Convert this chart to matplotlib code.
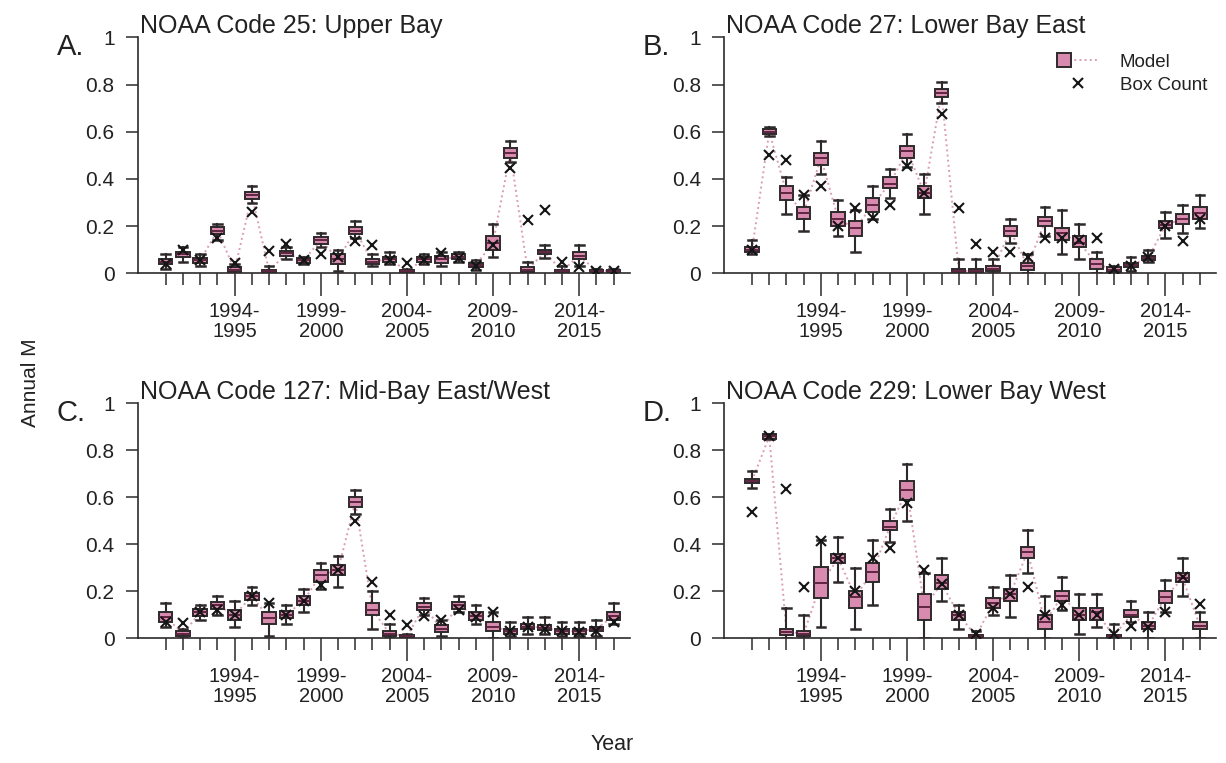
import numpy as np
import matplotlib
matplotlib.use('Agg')
import matplotlib.pyplot as plt
from matplotlib.lines import Line2D
from matplotlib.legend_handler import HandlerLine2D

plt.rcParams['font.family'] = ['Liberation Sans', 'DejaVu Sans']

# ----------------------------------------------------------------------
# data: years = first year of each season
# ----------------------------------------------------------------------
years = list(range(1990, 2017))
major_years = [1994, 1999, 2004, 2009, 2014]
major_labels = ['1994-\n1995', '1999-\n2000', '2004-\n2005', '2009-\n2010', '2014-\n2015']

titles = ['NOAA Code 25: Upper Bay', 'NOAA Code 27: Lower Bay East',
          'NOAA Code 127: Mid-Bay East/West', 'NOAA Code 229: Lower Bay West']
letters = ['A.', 'B.', 'C.', 'D.']

# Panel A -- NOAA 25
a_med = [0.05, 0.08, 0.055, 0.18, 0.015, 0.33, 0.01, 0.085, 0.055, 0.14, 0.06, 0.18, 0.05, 0.06,
         0.01, 0.06, 0.06, 0.07, 0.035, 0.13, 0.51, 0.015, 0.09, 0.01, 0.075, 0.01, 0.01]
a_q1 = [0.04, 0.07, 0.045, 0.165, 0.005, 0.315, 0.005, 0.075, 0.045, 0.125, 0.04, 0.165, 0.04, 0.05,
        0.005, 0.05, 0.045, 0.06, 0.025, 0.10, 0.49, 0.005, 0.08, 0.005, 0.06, 0.005, 0.005]
a_q3 = [0.06, 0.09, 0.065, 0.195, 0.025, 0.345, 0.015, 0.095, 0.065, 0.155, 0.08, 0.195, 0.06, 0.07,
        0.015, 0.07, 0.075, 0.08, 0.045, 0.16, 0.53, 0.025, 0.10, 0.015, 0.09, 0.015, 0.015]
a_lo = [0.02, 0.05, 0.03, 0.14, 0.0, 0.30, 0.0, 0.06, 0.04, 0.11, 0.01, 0.15, 0.03, 0.04,
        0.0, 0.04, 0.03, 0.05, 0.015, 0.07, 0.47, 0.0, 0.065, 0.0, 0.03, 0.0, 0.0]
a_hi = [0.08, 0.11, 0.08, 0.21, 0.04, 0.37, 0.03, 0.11, 0.07, 0.17, 0.10, 0.22, 0.08, 0.09,
        0.02, 0.08, 0.09, 0.09, 0.055, 0.21, 0.56, 0.05, 0.12, 0.03, 0.12, 0.02, 0.02]
a_cnt = [0.04, 0.10, 0.057, 0.15, 0.043, 0.26, 0.095, 0.123, 0.055, 0.082, 0.07, 0.135, 0.12, 0.055,
         0.045, 0.055, 0.085, 0.065, 0.03, 0.12, 0.447, 0.224, 0.267, 0.05, 0.025, 0.01, 0.01]

# Panel B -- NOAA 27
b_med = [0.10, 0.60, 0.34, 0.255, 0.49, 0.23, 0.19, 0.29, 0.38, 0.52, 0.34, 0.765, 0.01, 0.01,
         0.02, 0.18, 0.03, 0.22, 0.17, 0.13, 0.04, 0.015, 0.035, 0.065, 0.205, 0.23, 0.255]
b_q1 = [0.09, 0.59, 0.31, 0.23, 0.46, 0.20, 0.16, 0.26, 0.36, 0.49, 0.32, 0.745, 0.005, 0.005,
        0.01, 0.16, 0.015, 0.20, 0.14, 0.11, 0.02, 0.005, 0.025, 0.055, 0.19, 0.21, 0.23]
b_q3 = [0.11, 0.61, 0.37, 0.28, 0.51, 0.26, 0.22, 0.32, 0.41, 0.54, 0.37, 0.78, 0.02, 0.02,
        0.03, 0.20, 0.045, 0.24, 0.19, 0.16, 0.06, 0.025, 0.045, 0.075, 0.22, 0.25, 0.28]
b_lo = [0.08, 0.58, 0.25, 0.18, 0.42, 0.16, 0.09, 0.23, 0.32, 0.45, 0.25, 0.72, 0.0, 0.0,
        0.0, 0.13, 0.0, 0.16, 0.08, 0.06, 0.0, 0.0, 0.01, 0.05, 0.15, 0.17, 0.19]
b_hi = [0.14, 0.62, 0.41, 0.33, 0.56, 0.31, 0.27, 0.37, 0.44, 0.59, 0.42, 0.81, 0.06, 0.06,
        0.06, 0.23, 0.08, 0.28, 0.27, 0.21, 0.09, 0.03, 0.07, 0.10, 0.26, 0.29, 0.33]
b_cnt = [0.10, 0.50, 0.48, 0.33, 0.37, 0.20, 0.277, 0.234, 0.288, 0.454, 0.34, 0.674, 0.277, 0.123,
         0.089, 0.089, 0.07, 0.149, 0.15, 0.14, 0.149, 0.02, 0.03, 0.07, 0.20, 0.135, 0.23]

# Panel C -- NOAA 127
c_med = [0.09, 0.02, 0.11, 0.14, 0.10, 0.18, 0.085, 0.10, 0.16, 0.27, 0.29, 0.58, 0.12, 0.02,
         0.01, 0.135, 0.04, 0.14, 0.095, 0.05, 0.03, 0.05, 0.045, 0.03, 0.03, 0.04, 0.095]
c_q1 = [0.07, 0.01, 0.095, 0.125, 0.08, 0.165, 0.06, 0.085, 0.14, 0.24, 0.27, 0.56, 0.10, 0.01,
        0.005, 0.12, 0.025, 0.125, 0.08, 0.03, 0.02, 0.04, 0.035, 0.02, 0.02, 0.03, 0.08]
c_q3 = [0.11, 0.03, 0.125, 0.155, 0.12, 0.195, 0.11, 0.115, 0.18, 0.29, 0.31, 0.60, 0.15, 0.03,
        0.015, 0.15, 0.055, 0.155, 0.11, 0.07, 0.04, 0.06, 0.055, 0.04, 0.04, 0.05, 0.11]
c_lo = [0.05, 0.0, 0.08, 0.10, 0.05, 0.14, 0.01, 0.06, 0.11, 0.21, 0.22, 0.53, 0.04, 0.0,
        0.0, 0.10, 0.01, 0.11, 0.06, 0.0, 0.01, 0.02, 0.02, 0.01, 0.01, 0.01, 0.06]
c_hi = [0.15, 0.04, 0.14, 0.18, 0.16, 0.22, 0.15, 0.14, 0.21, 0.32, 0.35, 0.63, 0.20, 0.06,
        0.02, 0.17, 0.08, 0.18, 0.14, 0.11, 0.07, 0.09, 0.09, 0.07, 0.07, 0.08, 0.15]
c_cnt = [0.068, 0.064, 0.11, 0.12, 0.10, 0.18, 0.149, 0.10, 0.16, 0.227, 0.29, 0.50, 0.241, 0.10,
         0.057, 0.095, 0.08, 0.12, 0.09, 0.11, 0.03, 0.05, 0.04, 0.03, 0.025, 0.03, 0.07]

# Panel D -- NOAA 229
d_med = [0.67, 0.86, 0.028, 0.02, 0.234, 0.34, 0.177, 0.284, 0.475, 0.63, 0.132, 0.234, 0.10, 0.01,
         0.149, 0.19, 0.369, 0.068, 0.18, 0.10, 0.11, 0.01, 0.10, 0.052, 0.177, 0.255, 0.052]
d_q1 = [0.66, 0.85, 0.015, 0.01, 0.17, 0.32, 0.13, 0.24, 0.46, 0.59, 0.08, 0.21, 0.08, 0.005,
        0.13, 0.16, 0.34, 0.04, 0.16, 0.08, 0.08, 0.005, 0.09, 0.04, 0.15, 0.24, 0.04]
d_q3 = [0.68, 0.87, 0.04, 0.03, 0.305, 0.36, 0.20, 0.32, 0.50, 0.67, 0.19, 0.27, 0.11, 0.015,
        0.17, 0.21, 0.39, 0.10, 0.20, 0.13, 0.13, 0.015, 0.12, 0.07, 0.20, 0.28, 0.07]
d_lo = [0.64, 0.85, 0.0, 0.0, 0.05, 0.24, 0.04, 0.14, 0.41, 0.50, 0.0, 0.16, 0.04, 0.0,
        0.10, 0.09, 0.28, 0.0, 0.12, 0.02, 0.05, 0.0, 0.07, 0.0, 0.11, 0.18, 0.0]
d_hi = [0.71, 0.87, 0.13, 0.10, 0.42, 0.43, 0.30, 0.42, 0.55, 0.74, 0.28, 0.34, 0.14, 0.03,
        0.22, 0.27, 0.46, 0.18, 0.26, 0.19, 0.19, 0.06, 0.16, 0.11, 0.25, 0.34, 0.11]
d_cnt = [0.539, 0.86, 0.634, 0.22, 0.416, 0.34, 0.20, 0.34, 0.386, 0.574, 0.29, 0.23, 0.10, 0.02,
         0.13, 0.19, 0.217, 0.10, 0.14, 0.10, 0.10, 0.02, 0.052, 0.05, 0.113, 0.26, 0.146]

panels = [
    (a_med, a_q1, a_q3, a_lo, a_hi, a_cnt),
    (b_med, b_q1, b_q3, b_lo, b_hi, b_cnt),
    (c_med, c_q1, c_q3, c_lo, c_hi, c_cnt),
    (d_med, d_q1, d_q3, d_lo, d_hi, d_cnt),
]

# ----------------------------------------------------------------------
# style
# ----------------------------------------------------------------------
PINK = '#d98aaf'
EDGE = '#2e2a2c'
MED = '#5e2540'
TXT = '#222222'
LINE = '#dc9cba'

positions = [
    [0.1123, 0.6418, 0.4016, 0.3093],
    [0.5905, 0.6418, 0.4016, 0.3093],
    [0.1123, 0.1634, 0.4016, 0.3080],
    [0.5905, 0.1634, 0.4016, 0.3080],
]


class LeftMarkerHandler(HandlerLine2D):
    # square at the left end of the handle, dotted line trailing off to the right
    def create_artists(self, legend, orig_handle, xdescent, ydescent, width, height,
                       fontsize, trans):
        y = (height - ydescent) / 2
        x0 = -xdescent + 0.15 * width
        line = Line2D([x0, -xdescent + width], [y, y])
        self.update_prop(line, orig_handle, legend)
        line.set_marker('None')
        mk = Line2D([x0], [y])
        self.update_prop(mk, orig_handle, legend)
        mk.set_linestyle('None')
        line.set_transform(trans)
        mk.set_transform(trans)
        return [line, mk]


fig = plt.figure(figsize=(12.26, 7.63), dpi=100)

for k, (med, q1, q3, lo, hi, cnt) in enumerate(panels):
    ax = fig.add_axes(positions[k])
    stats = [dict(med=m, q1=a, q3=b, whislo=l, whishi=h, fliers=[])
             for m, a, b, l, h in zip(med, q1, q3, lo, hi)]

    ax.plot(years, med, ls=':', color=LINE, lw=1.4, zorder=1)
    ax.bxp(stats, positions=years, widths=0.78, capwidths=0.5, patch_artist=True,
           showfliers=False, manage_ticks=False,
           boxprops=dict(facecolor=PINK, edgecolor=EDGE, linewidth=1.4),
           whiskerprops=dict(color=EDGE, linewidth=1.5),
           capprops=dict(color=EDGE, linewidth=1.8),
           medianprops=dict(color=MED, linewidth=1.4),
           zorder=2)
    ax.plot(years, cnt, ls='none', marker='x', ms=7.5, mew=1.5, color='#151515', zorder=3)

    ax.set_xlim(1988.37, 2016.95)
    ax.set_ylim(0, 1)
    ax.set_yticks([0, 0.2, 0.4, 0.6, 0.8, 1])
    ax.set_yticklabels(['0', '0.2', '0.4', '0.6', '0.8', '1'])
    ax.set_xticks(major_years)
    ax.set_xticklabels(major_labels, linespacing=1.1)
    ax.set_xticks([y for y in years if y not in major_years], minor=True)

    for s in ['top', 'right']:
        ax.spines[s].set_visible(False)
    for s in ['left', 'bottom']:
        ax.spines[s].set_color(EDGE)
        ax.spines[s].set_linewidth(1.2)

    ax.tick_params(axis='y', direction='out', length=8.6, width=1.1, color=EDGE,
                   labelsize=15, labelcolor=TXT, pad=8)
    ax.tick_params(axis='x', which='major', direction='out', length=16.5, width=1.1,
                   color=EDGE, labelsize=14.5, labelcolor=TXT, pad=4)
    ax.tick_params(axis='x', which='minor', direction='out', length=8.6, width=1.1,
                   color=EDGE)

    ax.text(0.005, 1.02, titles[k], transform=ax.transAxes, ha='left', va='baseline',
            fontsize=18, color=TXT)
    ax.text(-0.165, 0.925, letters[k], transform=ax.transAxes, ha='left', va='baseline',
            fontsize=21, color=TXT)

    if k == 1:
        h_model = Line2D([], [], ls=':', color=LINE, lw=1.4, marker='s', ms=10,
                         mfc=PINK, mec=EDGE, mew=1.4)
        h_box = Line2D([], [], ls='none', marker='x', ms=7.5, mew=1.5, color='#151515')
        ax.legend([h_model, h_box], ['Model', 'Box Count'], loc='upper right',
                  bbox_to_anchor=(1.0, 0.97), frameon=False, fontsize=13.5,
                  handlelength=2.2, handletextpad=1.1, borderpad=0, labelspacing=0.3,
                  numpoints=1, handler_map={h_model: LeftMarkerHandler()},
                  labelcolor=TXT)

fig.text(0.0245, 0.498, 'Annual M', rotation=90, ha='center', va='center',
         fontsize=15, color=TXT)
fig.text(0.499, 0.024, 'Year', ha='center', va='center', fontsize=15.5, color=TXT)

fig.savefig('out.png', dpi=100)
